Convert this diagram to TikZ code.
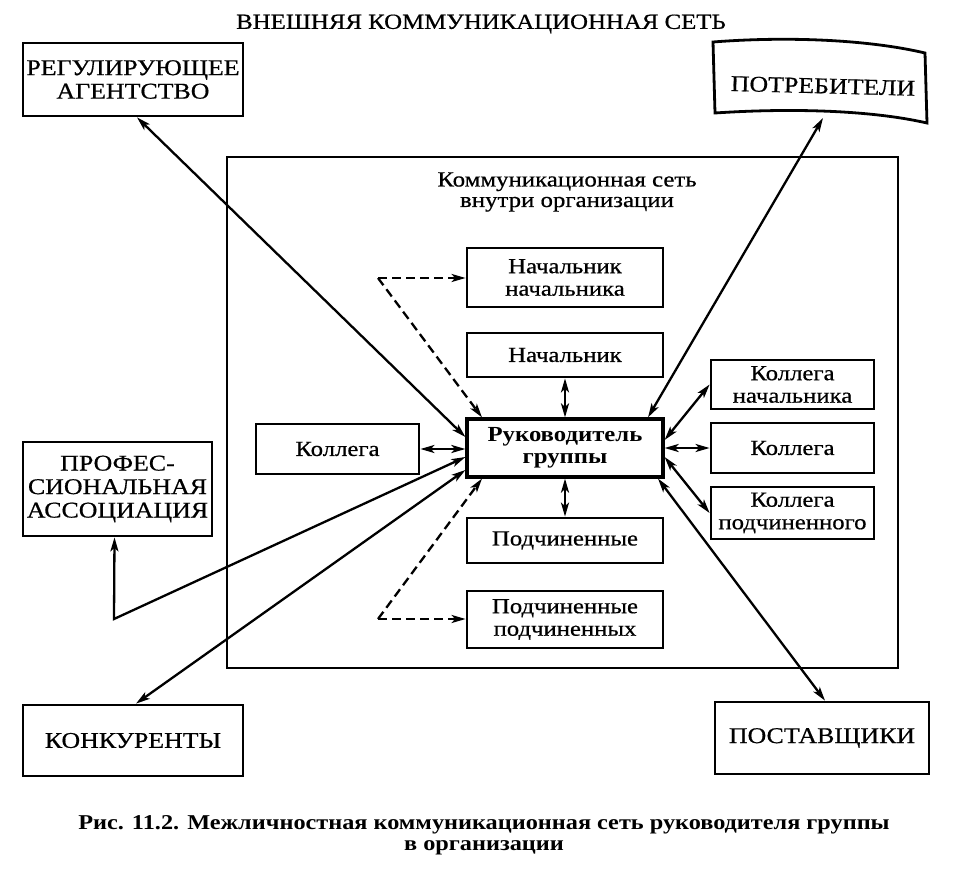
\documentclass[tikz,border=0pt]{standalone}
\usepackage{fontspec}
\setmainfont{Liberation Serif}[FakeStretch=1.15, UprightFeatures={FakeBold=0.6}]
\usetikzlibrary{arrows.meta,calc}
\newcommand{\nfont}{\fontsize{21.5}{22.5}\selectfont}
\newcommand{\capfont}{\fontsize{22.5}{23.5}\selectfont}
\begin{document}
\begin{tikzpicture}[x=1pt,y=-1pt,
  box/.style={draw, line width=2.8pt, inner sep=0pt, align=center, font=\nfont},
  capbox/.style={draw, line width=2.8pt, inner sep=0pt, align=center, font=\capfont},
  lbl/.style={inner sep=0pt, align=center},
  tip/.style={-{Stealth[length=14pt,width=8pt,inset=3.5pt]}},
  dbl/.style={{Stealth[length=14pt,width=8pt,inset=3.5pt]}-{Stealth[length=14pt,width=8pt,inset=3.5pt]}},
  con/.style={line width=2.3pt},
  dsh/.style={line width=2.3pt, dash pattern=on 9pt off 5pt}]
\useasboundingbox (0,0) rectangle (953,880);
\fill[white] (0,0) rectangle (953,880);

% titles
\node[lbl, font=\fontsize{21.6}{22}\selectfont] (title) at (481,24) {ВНЕШНЯЯ КОММУНИКАЦИОННАЯ СЕТЬ};

% inner frame
\draw[line width=2.8pt] (227,157) rectangle (898,668);
\node[lbl, font=\fontsize{21.6}{20.5}\selectfont] (intitle) at (567,192) {Коммуникационная сеть\\внутри организации};

% outer boxes
\node[capbox, minimum width=220pt, minimum height=73pt] (reg) at (133,79.5) {РЕГУЛИРУЮЩЕЕ\\АГЕНТСТВО};
\node[capbox, minimum width=189pt, minimum height=94pt] (prof) at (117.5,489) {ПРОФЕС-\\СИОНАЛЬНАЯ\\АССОЦИАЦИЯ};
\node[capbox, minimum width=220pt, minimum height=71pt] (konk) at (133,740.5) {КОНКУРЕНТЫ};
\node[capbox, minimum width=214pt, minimum height=72pt] (post) at (822,738) {ПОСТАВЩИКИ};
\node[lbl, font=\capfont, rotate=-1.5] (potr) at (823,86) {ПОТРЕБИТЕЛИ};
\draw[line width=2.8pt] (713,42) .. controls (790,36) and (870,40) .. (925,53) -- (927,123)
   .. controls (870,110) and (790,108) .. (715,113) -- cycle;
\coordinate (potrB) at (823,118);

% inner boxes
\node[box, minimum width=196pt, minimum height=59pt] (nn) at (565,277.5) {Начальник\\начальника};
\node[box, minimum width=196pt, minimum height=44pt] (nach) at (565,355) {Начальник};
\node[box, line width=3.2pt, minimum width=196pt, minimum height=58pt, font=\nfont\bfseries] (ruk) at (565,448) {Руководитель\\группы};
\node[box, minimum width=163pt, minimum height=50pt] (kolL) at (337.5,449) {Коллега};
\node[box, minimum width=196pt, minimum height=45pt] (podch) at (565,540.5) {Подчиненные};
\node[box, minimum width=196pt, minimum height=57pt] (pp) at (565,619.5) {Подчиненные\\подчиненных};
\node[box, minimum width=163pt, minimum height=49pt] (kn) at (792.5,384.5) {Коллега\\начальника};
\node[box, minimum width=163pt, minimum height=50pt] (kolR) at (792.5,448) {Коллега};
\node[box, minimum width=163pt, minimum height=52pt] (kp) at (792.5,513) {Коллега\\подчиненного};

% connectors
\draw[con,dbl] ([xshift=4pt]reg.south) -- ([yshift=11pt]ruk.west);
\draw[con,dbl] (potrB) -- ([xshift=83pt]ruk.north);
\draw[con,dbl] (nach.south) -- (ruk.north);
\draw[con,dbl] (kolL.east) -- (kolL.east -| ruk.west);
\draw[con,dbl] (kn.west) -- ([yshift=8pt]ruk.east);
\draw[con,dbl] (kolR.west) -- (ruk.east);
\draw[con,dbl] (kp.west) -- ([yshift=-9pt]ruk.east);
\draw[con,dbl] ([xshift=3pt]post.north) -- ([xshift=93pt]ruk.south);
\draw[con,dbl] (ruk.south) -- (podch.north);
\draw[con,dbl] ([xshift=-3pt]prof.south) -- (114,619) coordinate (pc) -- ([yshift=-9pt]ruk.west);
\draw[con,dbl] ([xshift=3pt]konk.north) -- ([yshift=-22pt]ruk.west);

\coordinate (d1) at (378,278);
\coordinate (d2) at (378,619);
\draw[dsh,tip] (d1) -- (d1 -| nn.west);
\draw[dsh,tip] (d1) -- ([xshift=-83pt]ruk.north);
\draw[dsh,tip] (d2) -- (d2 -| pp.west);
\draw[dsh,tip] (d2) -- ([xshift=-83pt]ruk.south);

% caption
\node[lbl, font=\fontsize{21.1}{21}\selectfont\bfseries] (cap) at (484,835) {Рис. 11.2. Межличностная коммуникационная сеть руководителя группы\\в организации};
\end{tikzpicture}
\end{document}
